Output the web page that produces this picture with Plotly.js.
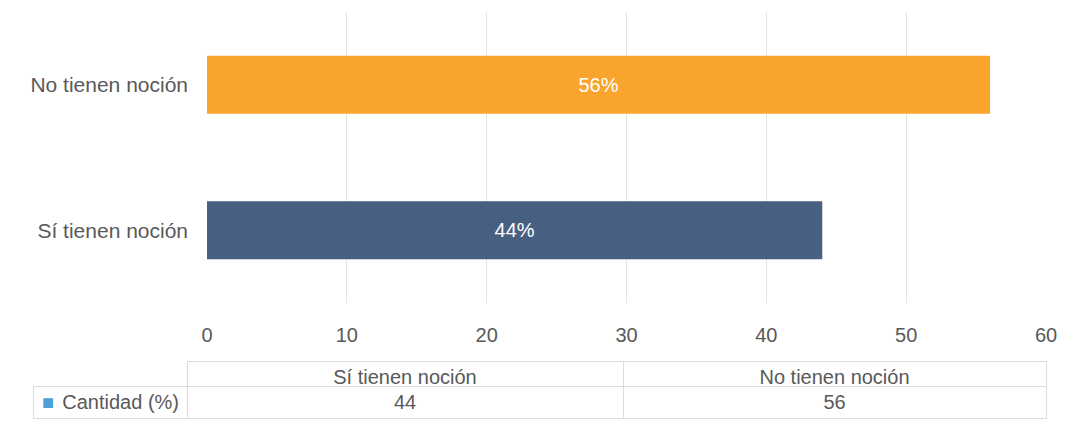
<!DOCTYPE html>
<html>
<head>
<meta charset="utf-8">
<script src="https://cdn.plot.ly/plotly-3.0.1.min.js"></script>
<style>
  html, body { margin: 0; padding: 0; background: #ffffff; }
  #chart { width: 1075px; height: 438px; }
</style>
</head>
<body>
<div id="chart"></div>
<script>
// --- data ---
const categories = ['Sí tienen noción', 'No tienen noción'];
const values = [44, 56];
const barColors = ['#475f80', '#f9a42c'];
const seriesName = 'Cantidad (%)';
const legendColor = '#4d9fd8';

const textGray = '#595959';
const font = 'Liberation Sans, Arial, sans-serif';

// --- bars ---
const bars = {
    type: 'bar',
    orientation: 'h',
    x: values,
    y: categories,
    marker: { color: barColors },
    text: values.map(v => v + '%'),
    textposition: 'inside',
    insidetextanchor: 'middle',
    textfont: { family: font, size: 20, color: '#ffffff' },
    hoverinfo: 'skip',
    xaxis: 'x',
    yaxis: 'y'
};

// nbsp instead of a space so the table keeps its fixed row height
const rowLabel = seriesName.replace(/ /g, '\u00a0');

// --- data table under the axis ---
const table = {
    type: 'table',
    domain: { x: [0, 1], y: [0, 59 / 408] },
    columnwidth: [154, 436, 423],
    header: {
        values: [''].concat(categories),
        height: 25,
        align: 'center',
        fill: { color: ['rgba(0,0,0,0)', '#ffffff', '#ffffff'] },
        line: { color: ['rgba(0,0,0,0)', '#dcdcdc', '#dcdcdc'], width: 1 },
        font: { family: font, size: 20, color: textGray }
    },
    cells: {
        values: [[rowLabel]].concat(values.map(v => [v])),
        height: 32,
        align: ['right', 'center', 'center'],
        fill: { color: '#ffffff' },
        line: { color: '#dcdcdc', width: 1 },
        font: { family: font, size: 20, color: textGray }
    }
};

const layout = {
    width: 1075,
    height: 438,
    margin: { l: 33, r: 29, t: 12, b: 18 },
    paper_bgcolor: '#ffffff',
    plot_bgcolor: '#ffffff',
    showlegend: false,
    bargap: 0.6,
    font: { family: font, color: textGray },
    xaxis: {
        domain: [0.1718, 1],
        range: [0, 60],
        dtick: 10,
        showgrid: true,
        gridcolor: '#e3e3e6',
        gridwidth: 1,
        zeroline: false,
        showline: false,
        ticks: '',
        ticklabelstandoff: 18,
        tickfont: { family: font, size: 20, color: textGray },
        fixedrange: true
    },
    yaxis: {
        domain: [117 / 408, 1],
        type: 'category',
        showgrid: false,
        zeroline: false,
        showline: false,
        ticks: '',
        ticklabelstandoff: 18,
        tickfont: { family: font, size: 21, color: textGray },
        fixedrange: true
    },
    // legend key of the data table
    annotations: [{
        text: '■',
        xref: 'paper', yref: 'paper',
        x: 0.0145, y: 0.044,
        xanchor: 'center', yanchor: 'middle',
        showarrow: false,
        font: { family: font, size: 20, color: legendColor }
    }]
};

Plotly.newPlot('chart', [bars, table], layout, { displayModeBar: false, staticPlot: true });
</script>
</body>
</html>
